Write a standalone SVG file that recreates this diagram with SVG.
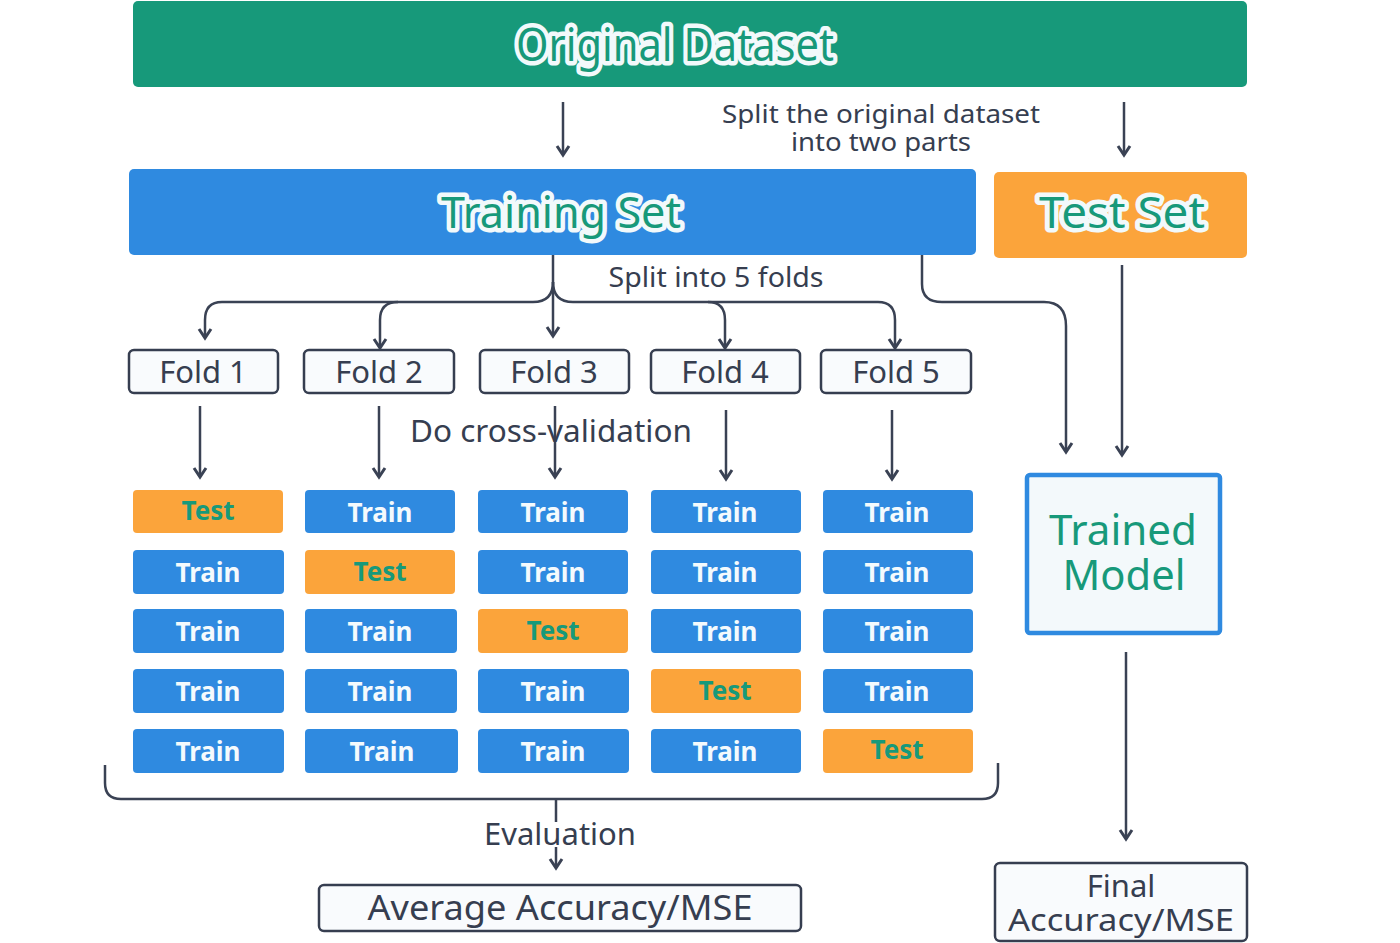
<svg xmlns="http://www.w3.org/2000/svg" width="1400" height="943" viewBox="0 0 1400 943">
<defs>
<marker id="ah" markerUnits="userSpaceOnUse" markerWidth="20" markerHeight="20" viewBox="-12 -10 14 20" refX="0" refY="0" orient="auto">
<path d="M-9,-6 L0,0 L-9,6" fill="none" stroke="#3a4254" stroke-width="3" stroke-linejoin="miter"/>
</marker>
</defs>
<style>
.title{font-family:"Noto Sans","Open Sans",sans-serif;font-weight:normal;fill:#17997a;stroke:#f2f9fb;stroke-width:9;paint-order:stroke;stroke-linejoin:round;text-anchor:middle}
.lbl{font-family:"Noto Sans","Open Sans",sans-serif;fill:#363e50;text-anchor:middle}
.halo{stroke:#ffffff;stroke-width:3;paint-order:stroke}
.box{fill:#f9fbfd;stroke:#363e50;stroke-width:2.5}
.cell{font-family:"Noto Sans","Open Sans",sans-serif;font-weight:bold;font-size:26px;text-anchor:middle}
.tr rect{fill:#2f8ae0}
.tr text{fill:#f4fafd}
.te rect{fill:#fba43b}
.te text{fill:#17997a}
.con{fill:none;stroke:#3a4254;stroke-width:2.5}
.arr{marker-end:url(#ah)}
</style>
<rect width="1400" height="943" fill="#ffffff"/>

<g id="connectors">
<path class="con arr" d="M563,102 L563,155"/>
<path class="con arr" d="M1124,102 L1124,155"/>
<path class="con arr" d="M553,255 L553,336"/>
<path class="con arr" d="M553,282 Q553,302 533,302 L222,302 Q205,302 205,320 L205,338"/>
<path class="con arr" d="M398,302 Q380,302 380,320 L380,348"/>
<path class="con arr" d="M553,282 Q553,302 573,302 L878,302 Q895,302 895,320 L895,348"/>
<path class="con arr" d="M708,302 Q725,302 725,320 L725,348"/>
<path class="con arr" d="M922,255 L922,284 Q922,302 942,302 L1044,302 Q1066,302 1066,326 L1066,452"/>
<path class="con arr" d="M1122,265 L1122,455"/>
<path class="con arr" d="M200,406 L200,477"/>
<path class="con arr" d="M379,406 L379,477"/>
<path class="con arr" d="M555,406 L555,477"/>
<path class="con arr" d="M726,410 L726,479"/>
<path class="con arr" d="M892,410 L892,479"/>
<path class="con" d="M105,765 L105,783 Q105,799 121,799 L982,799 Q998,799 998,783 L998,763"/>
<path class="con" d="M556,799 L556,822"/>
<path class="con arr" d="M556,847 L556,868"/>
<path class="con arr" d="M1126,652 L1126,839"/>
</g>

<g id="original-dataset">
<rect x="133" y="1" width="1114" height="86" rx="5" fill="#17997a"/>
<text class="title" x="675" y="61" font-size="45" textLength="318" lengthAdjust="spacingAndGlyphs" font-weight="bold">Original Dataset</text>
</g>

<g id="split-label">
<text class="lbl" x="881" y="123" font-size="26" textLength="318" lengthAdjust="spacingAndGlyphs">Split the original dataset</text>
<text class="lbl" x="881" y="151" font-size="26" textLength="180" lengthAdjust="spacingAndGlyphs">into two parts</text>
</g>

<g id="training-set">
<rect x="129" y="169" width="847" height="86" rx="5" fill="#2f8ae0"/>
<text class="title" x="561" y="228" font-size="44" textLength="240" lengthAdjust="spacingAndGlyphs">Training Set</text>
</g>

<g id="test-set">
<rect x="994" y="172" width="253" height="86" rx="5" fill="#fba43b"/>
<text class="title" x="1122" y="228" font-size="44" textLength="166" lengthAdjust="spacingAndGlyphs">Test Set</text>
</g>

<g id="folds-label">
<text class="lbl halo" x="716" y="287" font-size="27" textLength="215" lengthAdjust="spacingAndGlyphs">Split into 5 folds</text>
</g>

<g id="fold1"><rect class="box" x="129" y="350" width="149" height="43" rx="5"/><text class="lbl" x="203" y="383" font-size="31">Fold 1</text></g>
<g id="fold2"><rect class="box" x="304" y="350" width="150" height="43" rx="5"/><text class="lbl" x="379" y="383" font-size="31">Fold 2</text></g>
<g id="fold3"><rect class="box" x="480" y="350" width="149" height="43" rx="5"/><text class="lbl" x="554" y="383" font-size="31">Fold 3</text></g>
<g id="fold4"><rect class="box" x="651" y="350" width="149" height="43" rx="5"/><text class="lbl" x="725" y="383" font-size="31">Fold 4</text></g>
<g id="fold5"><rect class="box" x="821" y="350" width="150" height="43" rx="5"/><text class="lbl" x="896" y="383" font-size="31">Fold 5</text></g>

<g id="cv-label">
<text class="lbl" x="551" y="442" font-size="31" textLength="282" lengthAdjust="spacingAndGlyphs">Do cross-validation</text>
</g>

<g id="grid">
<g class="cell te" id="c11"><rect x="133" y="490" width="150" height="43" rx="4"/><text x="208" y="520">Test</text></g>
<g class="cell tr" id="c21"><rect x="305" y="490" width="150" height="43" rx="4"/><text x="380" y="522">Train</text></g>
<g class="cell tr" id="c31"><rect x="478" y="490" width="150" height="43" rx="4"/><text x="553" y="522">Train</text></g>
<g class="cell tr" id="c41"><rect x="651" y="490" width="150" height="43" rx="4"/><text x="725" y="522">Train</text></g>
<g class="cell tr" id="c51"><rect x="823" y="490" width="150" height="43" rx="4"/><text x="897" y="522">Train</text></g>

<g class="cell tr" id="c12"><rect x="133" y="550" width="151" height="44" rx="4"/><text x="208" y="582">Train</text></g>
<g class="cell te" id="c22"><rect x="305" y="550" width="150" height="44" rx="4"/><text x="380" y="581">Test</text></g>
<g class="cell tr" id="c32"><rect x="478" y="550" width="150" height="44" rx="4"/><text x="553" y="582">Train</text></g>
<g class="cell tr" id="c42"><rect x="651" y="550" width="150" height="44" rx="4"/><text x="725" y="582">Train</text></g>
<g class="cell tr" id="c52"><rect x="823" y="550" width="150" height="44" rx="4"/><text x="897" y="582">Train</text></g>

<g class="cell tr" id="c13"><rect x="133" y="609" width="151" height="44" rx="4"/><text x="208" y="641">Train</text></g>
<g class="cell tr" id="c23"><rect x="305" y="609" width="152" height="44" rx="4"/><text x="380" y="641">Train</text></g>
<g class="cell te" id="c33"><rect x="478" y="609" width="150" height="44" rx="4"/><text x="553" y="640">Test</text></g>
<g class="cell tr" id="c43"><rect x="651" y="609" width="150" height="44" rx="4"/><text x="725" y="641">Train</text></g>
<g class="cell tr" id="c53"><rect x="823" y="609" width="150" height="44" rx="4"/><text x="897" y="641">Train</text></g>

<g class="cell tr" id="c14"><rect x="133" y="669" width="151" height="44" rx="4"/><text x="208" y="701">Train</text></g>
<g class="cell tr" id="c24"><rect x="305" y="669" width="152" height="44" rx="4"/><text x="380" y="701">Train</text></g>
<g class="cell tr" id="c34"><rect x="478" y="669" width="151" height="44" rx="4"/><text x="553" y="701">Train</text></g>
<g class="cell te" id="c44"><rect x="651" y="669" width="150" height="44" rx="4"/><text x="725" y="700">Test</text></g>
<g class="cell tr" id="c54"><rect x="823" y="669" width="150" height="44" rx="4"/><text x="897" y="701">Train</text></g>

<g class="cell tr" id="c15"><rect x="133" y="729" width="151" height="44" rx="4"/><text x="208" y="761">Train</text></g>
<g class="cell tr" id="c25"><rect x="305" y="729" width="153" height="44" rx="4"/><text x="382" y="761">Train</text></g>
<g class="cell tr" id="c35"><rect x="478" y="729" width="151" height="44" rx="4"/><text x="553" y="761">Train</text></g>
<g class="cell tr" id="c45"><rect x="651" y="729" width="150" height="44" rx="4"/><text x="725" y="761">Train</text></g>
<g class="cell te" id="c55"><rect x="823" y="729" width="150" height="44" rx="4"/><text x="897" y="759">Test</text></g>
</g>

<g id="evaluation-label">
<text class="lbl halo" x="560" y="845" font-size="30" textLength="152" lengthAdjust="spacingAndGlyphs">Evaluation</text>
</g>

<g id="average-accuracy">
<rect class="box" x="319" y="885" width="482" height="46" rx="5"/>
<text class="lbl" x="560" y="920" font-size="35" textLength="385" lengthAdjust="spacingAndGlyphs">Average Accuracy/MSE</text>
</g>

<g id="trained-model">
<rect x="1027" y="475" width="193" height="158" rx="3" fill="#f3f9fb" stroke="#2f8ae0" stroke-width="4.5"/>
<text x="1123" y="545" font-size="41" textLength="148" lengthAdjust="spacingAndGlyphs" style="font-family:'Noto Sans','Open Sans',sans-serif;fill:#17997a;text-anchor:middle">Trained</text>
<text x="1124" y="590" font-size="41" textLength="123" lengthAdjust="spacingAndGlyphs" style="font-family:'Noto Sans','Open Sans',sans-serif;fill:#17997a;text-anchor:middle">Model</text>
</g>

<g id="final-accuracy">
<rect class="box" x="995" y="863" width="252" height="78" rx="5"/>
<text class="lbl" x="1121" y="897" font-size="31">Final</text>
<text class="lbl" x="1121" y="931" font-size="31" textLength="226" lengthAdjust="spacingAndGlyphs">Accuracy/MSE</text>
</g>
</svg>
